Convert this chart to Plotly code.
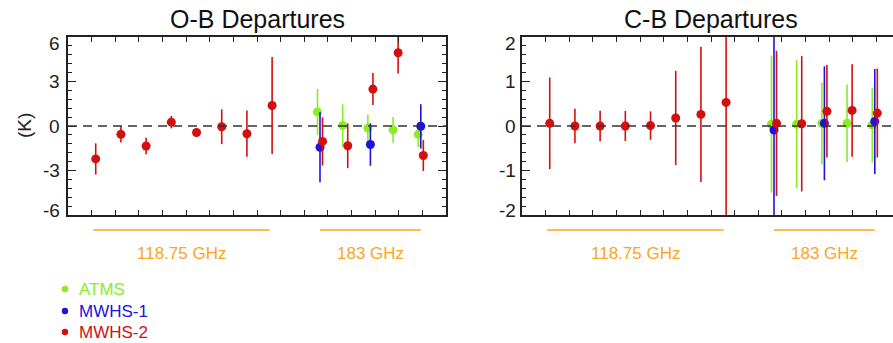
import plotly.graph_objects as go

# ---------------- data ----------------
ch_118 = [1, 2, 3, 4, 5, 6, 7, 8]
ch_183 = [10, 11, 12, 13, 14]
ch_mwhs1 = [10, 12, 14]
mwhs2_ch = ch_118 + ch_183

# O-B departures (K): mean and std
mwhs2_ob = [-2.22, -0.56, -1.35, 0.26, -0.44, -0.05, -0.52, 1.38, -1.04, -1.33, 2.49, 4.94, -1.99]
mwhs2_ob_sd = [1.05, 0.56, 0.55, 0.42, 0.28, 1.17, 1.56, 3.27, 1.62, 1.51, 1.08, 1.40, 1.04]
atms_ob = [0.95, 0.04, -0.14, -0.26, -0.56]
atms_ob_sd = [1.55, 1.43, 0.92, 0.87, 0.85]
mwhs1_ob = [-1.43, -1.25, -0.02]
mwhs1_ob_sd = [2.36, 1.43, 1.49]

# C-B departures (K)
mwhs2_cb = [0.06, 0.00, 0.00, 0.00, 0.01, 0.18, 0.26, 0.53, 0.06, 0.05, 0.33, 0.35, 0.29]
mwhs2_cb_sd = [1.03, 0.39, 0.34, 0.34, 0.32, 1.06, 1.52, 3.00, 1.63, 1.52, 1.04, 1.04, 1.00]
atms_cb = [0.04, 0.04, 0.06, 0.06, 0.02]
atms_cb_sd = [1.54, 1.44, 0.92, 0.87, 0.84]
mwhs1_cb = [-0.09, 0.06, 0.10]
mwhs1_cb_sd = [2.50, 1.28, 1.18]

band_labels = ["118.75 GHz", "183 GHz"]
band_ranges = [(1, 8), (10, 14)]
titles = ["O-B Departures", "C-B Departures"]
instruments = ["ATMS", "MWHS-1", "MWHS-2"]
ob_ticks = [-6, -3, 0, 3, 6]
cb_ticks = [-2, -1, 0, 1, 2]

# ---------------- style ----------------
C_ATMS = "#88ee22"
C_MW1 = "#2211dd"
C_MW2 = "#d40f0f"
ORANGE = "#ffa31a"
FONT = "Liberation Sans, Arial, sans-serif"
AXC = "#222222"
W, H = 893, 343


def px(X):
    return X / W


def py(Y):
    return 1 - Y / H


fig = go.Figure()


def add_series(xs, ys, sd, color, xa, ya, shift):
    fig.add_trace(go.Scatter(
        x=[v + shift for v in xs], y=ys, mode="markers",
        marker=dict(color=color, size=9, line=dict(width=0)),
        error_y=dict(type="data", array=sd, visible=True, color=color,
                     thickness=1.6, width=0),
        xaxis=xa, yaxis=ya, showlegend=False, hoverinfo="x+y"))


# left panel
add_series(ch_183, atms_ob, atms_ob_sd, C_ATMS, "x", "y", -0.1)
add_series(ch_mwhs1, mwhs1_ob, mwhs1_ob_sd, C_MW1, "x", "y", 0.0)
add_series(mwhs2_ch, mwhs2_ob, mwhs2_ob_sd, C_MW2, "x", "y", 0.1)
# right panel
add_series(ch_183, atms_cb, atms_cb_sd, C_ATMS, "x2", "y2", -0.1)
add_series(ch_mwhs1, mwhs1_cb, mwhs1_cb_sd, C_MW1, "x2", "y2", 0.0)
add_series(mwhs2_ch, mwhs2_cb, mwhs2_cb_sd, C_MW2, "x2", "y2", 0.1)

# geometry (pixels)
L1, R1 = 68, 446
L2 = 522
PX_PER_UNIT = (R1 - L1) / 15.0
TOP, BOT = 37, 215
ydom = [py(BOT), py(TOP)]
x2max = (W - L2) / PX_PER_UNIT

xcommon = dict(showline=True, linecolor=AXC, linewidth=1.5, ticks="inside",
               ticklen=5, tickwidth=1.2, tickcolor=AXC, tick0=0, dtick=15 / 16,
               showticklabels=False, showgrid=False, zeroline=False,
               mirror="ticks", automargin=False)
ycommon = dict(showline=True, linecolor=AXC, linewidth=1.5, ticks="inside",
               ticklen=8, tickwidth=1.2, tickcolor=AXC, showgrid=False,
               zeroline=False, showticklabels=False, automargin=False)

fig.update_layout(
    width=W, height=H, margin=dict(l=0, r=0, t=0, b=0, autoexpand=False),
    paper_bgcolor="white", plot_bgcolor="white", showlegend=False,
    font=dict(family=FONT, color=AXC),
    xaxis=dict(domain=[px(L1), px(R1)], range=[0, 15], **xcommon),
    xaxis2=dict(domain=[px(L2), 1.0], range=[0, x2max], anchor="y2", **xcommon),
    yaxis=dict(domain=ydom, range=[-6, 6], tickvals=ob_ticks, mirror="ticks",
               minor=dict(dtick=0.6, tick0=0, ticks="inside", ticklen=4,
                          tickcolor=AXC, tickwidth=1.2),
               **ycommon),
    yaxis2=dict(domain=ydom, range=[-2.0, 2.0], tickvals=cb_ticks,
                anchor="x2", mirror=False,
                minor=dict(dtick=0.2, tick0=0, ticks="inside", ticklen=4,
                           tickcolor=AXC, tickwidth=1.2),
                **ycommon),
)

# y tick labels (IDL style: end labels pulled inside the frame)
for yr, ticks, xl in [("y", ob_ticks, 62), ("y2", cb_ticks, 517.5)]:
    for i, v in enumerate(ticks):
        shift = 0
        if i == 0:
            shift = 5
        elif i == len(ticks) - 1:
            shift = -7
        fig.add_annotation(x=px(xl), y=v, xref="paper", yref=yr,
                           text=str(v), showarrow=False, xanchor="right",
                           yanchor="middle", yshift=shift,
                           font=dict(family=FONT, size=19, color=AXC))

# zero dashed lines
for xr, yr in [("x", "y"), ("x2", "y2")]:
    fig.add_shape(type="line", xref=f"{xr} domain", yref=yr, x0=0, x1=1,
                  y0=0, y1=0, line=dict(color="#333333", width=1.5,
                                        dash="9px,6px"))

# band annotations
for xr in ["x", "x2"]:
    for lab, (a, b) in zip(band_labels, band_ranges):
        fig.add_shape(type="line", xref=xr, yref="paper", x0=a, x1=b,
                      y0=py(230), y1=py(230),
                      line=dict(color=ORANGE, width=1.5))
        fig.add_annotation(x=(a + b) / 2, y=py(253), xref=xr, yref="paper",
                           text=lab, showarrow=False,
                           font=dict(family=FONT, size=17, color=ORANGE),
                           xanchor="center", yanchor="middle")

# titles
for xr, t in zip(["x", "x2"], titles):
    fig.add_annotation(x=7.5, y=py(18.5), xref=xr, yref="paper", text=t,
                       showarrow=False, xanchor="center", yanchor="middle",
                       font=dict(family=FONT, size=25, color="#111111"))

fig.add_annotation(x=px(25), y=py(126), xref="paper", yref="paper",
                   text="(K)", textangle=-90, showarrow=False,
                   xanchor="center", yanchor="middle",
                   font=dict(family=FONT, size=19, color=AXC))

# legend (manual)
leg_rows = [289, 311, 332]
r = 3.2
for name, col, yy in zip(instruments, [C_ATMS, C_MW1, C_MW2], leg_rows):
    fig.add_shape(type="circle", xref="paper", yref="paper",
                  x0=px(65 - r), x1=px(65 + r),
                  y0=py(yy + r), y1=py(yy - r),
                  fillcolor=col, line=dict(width=0))
    fig.add_annotation(x=px(77), y=py(yy), xref="paper", yref="paper",
                       text=name, showarrow=False, xanchor="left",
                       yanchor="middle",
                       font=dict(family=FONT, size=17, color=col))

fig.write_html("out.html",
               config={"displayModeBar": False},
               post_script="document.body.style.margin='0px';"
                           "document.body.style.overflow='hidden';")
